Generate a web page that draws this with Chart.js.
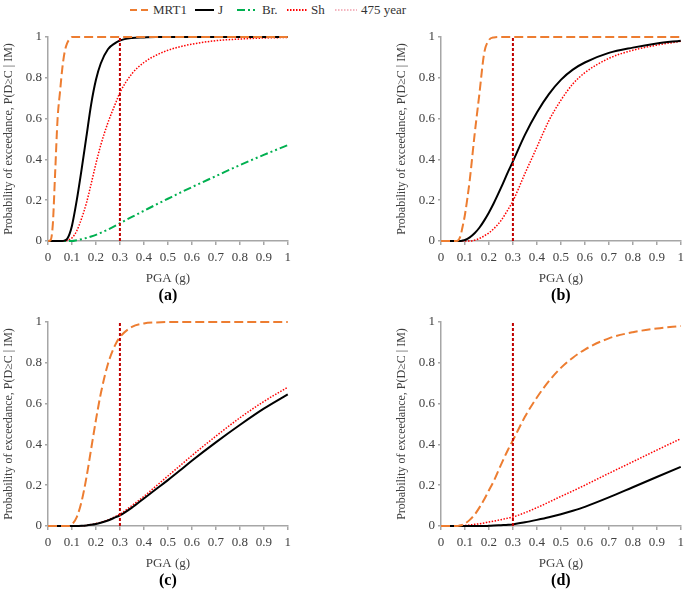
<!DOCTYPE html>
<html>
<head>
<meta charset="utf-8">
<script src="https://cdn.jsdelivr.net/npm/chart.js@4.4.1/dist/chart.umd.min.js"></script>
<style>
  body { margin: 0; width: 685px; height: 591px; background: #fff; position: relative; overflow: hidden;
         font-family: "Liberation Serif", serif; color: #333; }
  canvas { position: absolute; }
  .lg { position: absolute; top: 3px; font-size: 13px; line-height: 14px; }
  .sw { position: absolute; top: 6px; }
</style>
</head>
<body>
<div id="legend"></div>
<canvas id="pa" width="296" height="284" style="left:0;top:22px"></canvas>
<canvas id="pb" width="296" height="284" style="left:393px;top:22px"></canvas>
<canvas id="pc" width="296" height="284" style="left:0;top:307px"></canvas>
<canvas id="pd" width="296" height="284" style="left:393px;top:307px"></canvas>
<script>
// PGA grid the curves were read at
var pga = [0, 0.01, 0.02, 0.03, 0.04, 0.05, 0.06, 0.07, 0.08, 0.09, 0.1, 0.12, 0.14, 0.16, 0.18, 0.2,
           0.22, 0.25, 0.28, 0.3, 0.35, 0.4, 0.45, 0.5, 0.55, 0.6, 0.7, 0.8, 0.9, 1];

// (a)
var aMrt1 = [0, 0.003, 0.08, 0.34, 0.6, 0.73, 0.85, 0.93, 0.97, 0.99, 1, 1, 1, 1, 1, 1, 1, 1, 1, 1, 1, 1, 1, 1, 1, 1, 1, 1, 1, 1];
var aJ    = [0, 0, 0, 0, 0, 0, 0, 0.003, 0.01, 0.035, 0.075, 0.2, 0.35, 0.51, 0.67, 0.79, 0.87, 0.94, 0.97, 0.983, 0.995, 0.998, 1, 1, 1, 1, 1, 1, 1, 1];
var aBr   = [0, 0, 0, 0, 0, 0, 0, 0, 0, 0, 0, 0.004, 0.009, 0.015, 0.022, 0.03, 0.04, 0.056, 0.074, 0.087, 0.118, 0.148, 0.178, 0.207, 0.236, 0.264, 0.318, 0.372, 0.422, 0.47];
var aSh   = [0, 0, 0, 0, 0, 0, 0, 0, 0.003, 0.008, 0.015, 0.05, 0.11, 0.185, 0.28, 0.38, 0.47, 0.58, 0.67, 0.727, 0.82, 0.875, 0.91, 0.935, 0.952, 0.965, 0.982, 0.99, 0.995, 0.998];
// (b)
var bMrt1 = [0, 0, 0, 0, 0, 0, 0, 0.002, 0.02, 0.07, 0.13, 0.3, 0.52, 0.72, 0.92, 0.985, 0.998, 1, 1, 1, 1, 1, 1, 1, 1, 1, 1, 1, 1, 1];
var bJ    = [0, 0, 0, 0, 0, 0, 0, 0, 0, 0.002, 0.005, 0.018, 0.038, 0.065, 0.1, 0.14, 0.185, 0.26, 0.34, 0.39, 0.52, 0.63, 0.72, 0.79, 0.84, 0.875, 0.922, 0.948, 0.968, 0.982];
var bSh   = [0, 0, 0, 0, 0, 0, 0, 0, 0, 0, 0, 0, 0.004, 0.012, 0.025, 0.04, 0.06, 0.1, 0.155, 0.196, 0.33, 0.46, 0.59, 0.69, 0.77, 0.825, 0.895, 0.935, 0.96, 0.979];
// (c)
var cMrt1 = [0, 0, 0, 0, 0, 0, 0, 0, 0, 0, 0.008, 0.044, 0.12, 0.236, 0.378, 0.52, 0.648, 0.794, 0.887, 0.926, 0.976, 0.993, 0.998, 1, 1, 1, 1, 1, 1, 1];
var cJ    = [0, 0, 0, 0, 0, 0, 0, 0, 0, 0, 0, 0, 0.001, 0.003, 0.006, 0.01, 0.016, 0.027, 0.042, 0.052, 0.09, 0.135, 0.18, 0.225, 0.272, 0.32, 0.41, 0.495, 0.575, 0.645];
var cSh   = [0, 0, 0, 0, 0, 0, 0, 0, 0, 0, 0, 0, 0.001, 0.003, 0.007, 0.012, 0.018, 0.03, 0.046, 0.058, 0.1, 0.145, 0.195, 0.245, 0.295, 0.345, 0.44, 0.53, 0.61, 0.68];
// (d)
var dMrt1 = [0, 0, 0, 0, 0, 0, 0, 0, 0.002, 0.006, 0.012, 0.03, 0.055, 0.09, 0.13, 0.175, 0.22, 0.3, 0.375, 0.42, 0.535, 0.63, 0.71, 0.775, 0.825, 0.865, 0.92, 0.95, 0.968, 0.98];
var dJ    = [0, 0, 0, 0, 0, 0, 0, 0, 0, 0, 0, 0, 0, 0, 0, 0.001, 0.002, 0.004, 0.006, 0.008, 0.018, 0.03, 0.043, 0.058, 0.075, 0.094, 0.14, 0.19, 0.24, 0.29];
var dSh   = [0, 0, 0, 0, 0, 0, 0.001, 0.001, 0.002, 0.002, 0.003, 0.005, 0.008, 0.011, 0.015, 0.02, 0.024, 0.031, 0.039, 0.044, 0.065, 0.09, 0.117, 0.145, 0.172, 0.2, 0.258, 0.315, 0.372, 0.428];

// 475 year return period PGA
var rpPga = 0.3;

var FONT = '"Liberation Serif", serif';
var axisCol = '#a6a6a6';
var textCol = '#404040';

var styles = {
  'MRT1':     { color: '#ED7D31', dash: [9, 4], width: 2 },
  'J':        { color: '#000000', dash: [], width: 2 },
  'Br.':      { color: '#00B050', dash: [8, 3, 2, 3, 2, 3], width: 2 },
  'Sh':       { color: '#FF0000', dash: [1.5, 1.5], width: 1.5 },
  '475 year': { color: '#C00000', dash: [3, 2], width: 2 }
};

// html legend: name, swatch x, text x, colour, dash
var legendItems = [
  ['MRT1', 130, 153, '#ED7D31', '7,4'],
  ['J', 195, 218, '#000', ''],
  ['Br.', 237, 262, '#00B050', '8,3,2,3,2,3'],
  ['Sh', 287, 311, '#FF0000', '1.5,1.5'],
  ['475 year', 335, 361, '#F4B6C0', '1.5,1.5']
];
var lgHtml = '';
legendItems.forEach(function (it) {
  var w = it[2] - it[1] - 4;
  lgHtml += '<svg class="sw" style="left:' + it[1] + 'px" width="' + w + '" height="8"><line x1="0" y1="4" x2="' + w +
    '" y2="4" stroke="' + it[3] + '" stroke-width="2" stroke-dasharray="' + it[4] + '"/></svg>';
  lgHtml += '<span class="lg" style="left:' + it[2] + 'px">' + it[0] + '</span>';
});
document.getElementById('legend').innerHTML = lgHtml;

function curve(name, vals) {
  var s = styles[name];
  return {
    label: name,
    data: pga.map(function (x, i) { return { x: x, y: vals[i] }; }),
    borderColor: s.color, borderDash: s.dash, borderWidth: s.width,
    cubicInterpolationMode: 'monotone', pointRadius: 0, fill: false, clip: false, order: 1
  };
}

function rpLine() {
  var s = styles['475 year'];
  return {
    label: '475 year',
    data: [{ x: rpPga, y: 0 }, { x: rpPga, y: 1 }],
    borderColor: s.color, borderDash: s.dash, borderWidth: s.width,
    pointRadius: 0, fill: false, clip: false, order: 0
  };
}

function fmt(v) { return String(Number(v.toFixed(1))); }

function makePanel(id, letter, sets) {
  var datasets = sets.map(function (p) { return curve(p[0], p[1]); });
  datasets.push(rpLine());
  return new Chart(id, {
    type: 'line',
    data: { datasets: datasets },
    options: {
      animation: false,
      responsive: false,
      layout: { padding: { top: 15, right: 0, bottom: 0.8, left: 0 } },
      plugins: {
        legend: { display: false },
        tooltip: { enabled: false },
        title: {
          display: true, text: letter, position: 'bottom', fullSize: false, color: '#000',
          font: { family: FONT, size: 16, weight: 'bold' }, padding: { top: 0, bottom: 0 }
        }
      },
      scales: {
        x: {
          type: 'linear', min: 0, max: 1,
          ticks: { stepSize: 0.1, color: textCol, padding: 5, maxRotation: 0, autoSkip: false,
                   font: { family: FONT, size: 13 }, callback: fmt },
          grid: { drawOnChartArea: false, drawTicks: true, tickLength: 4, color: axisCol, lineWidth: 1.5 },
          border: { color: axisCol, width: 1.5 },
          title: { display: true, text: 'PGA (g)', color: textCol, font: { family: FONT, size: 13 },
                   padding: { top: 0, bottom: 0 } },
          afterFit: function (s) { s.height = 45; }
        },
        y: {
          type: 'linear', min: 0, max: 1,
          ticks: { stepSize: 0.2, color: textCol, padding: 3, font: { family: FONT, size: 13 }, callback: fmt },
          grid: { drawOnChartArea: false, drawTicks: true, tickLength: 3, color: axisCol, lineWidth: 1.5 },
          border: { color: axisCol, width: 1.5 },
          title: { display: true, text: 'Probability of exceedance, P(D\u2265C | IM)', color: textCol,
                   font: { family: FONT, size: 12 }, padding: { top: 2, bottom: 0 } },
          afterFit: function (s) { s.width = 48; }
        }
      }
    }
  });
}

makePanel('pa', '(a)', [['MRT1', aMrt1], ['J', aJ], ['Br.', aBr], ['Sh', aSh]]);
makePanel('pb', '(b)', [['MRT1', bMrt1], ['J', bJ], ['Sh', bSh]]);
makePanel('pc', '(c)', [['MRT1', cMrt1], ['J', cJ], ['Sh', cSh]]);
makePanel('pd', '(d)', [['MRT1', dMrt1], ['J', dJ], ['Sh', dSh]]);
</script>
</body>
</html>
